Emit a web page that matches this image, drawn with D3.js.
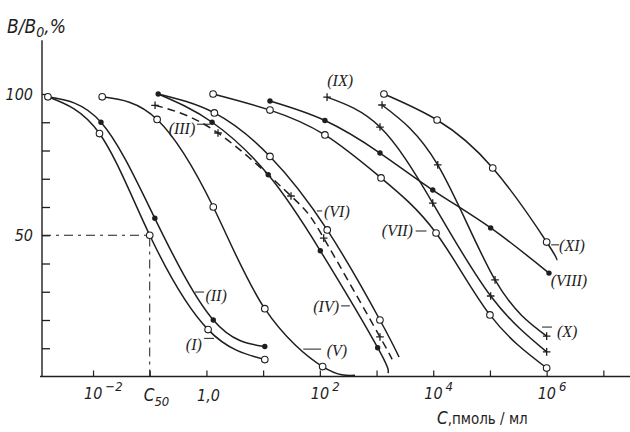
<!DOCTYPE html>
<html>
<head>
<meta charset="utf-8">
<script src="https://cdn.jsdelivr.net/npm/d3@7/dist/d3.min.js"></script>
<style>
  body { margin: 0; background: #fff; }
  svg text { fill: #1e1e1e; }
</style>
</head>
<body>
<svg id="chart" width="630" height="432"></svg>
<script>
// x axis decades (C, pmol/ml) and y axis ticks (B/B0, %)
const xTicks = [1e-2, 1e-1, 1, 1e1, 1e2, 1e3, 1e4, 1e5, 1e6, 1e7];
const xPowLabels = [[1e-2, "−2"], [1e2, "2"], [1e4, "4"], [1e6, "6"]];
const yTicks = [10, 20, 30, 40, 50, 60, 70, 80, 90, 100];
const yTickLabels = [100, 50];
const c50 = 0.1;

// curves: [C, B/B0 %, marker drawn?]
const curveI    = [[0.0016, 99, 1], [0.013, 86, 1], [0.1, 50, 1], [1.07, 16.6, 1], [10.7, 6, 1]];
const curveII   = [[0.0016, 99, 0], [0.0138, 90, 1], [0.123, 56, 1], [1.32, 20, 1], [10.7, 10.6, 1]];
const curveIII  = [[0.124, 96, 1], [1.6, 86.2, 1], [31, 63.9, 1], [117, 49, 1], [1150, 14, 1], [1820, 6.5, 0]];
const curveIV   = [[0.141, 100, 1], [1.26, 90, 1], [12.3, 71.4, 1], [102, 44.5, 1], [1047, 10.2, 1], [1585, 1.2, 0]];
const curveV    = [[0.0145, 99, 1], [0.135, 91, 1], [1.32, 60, 1], [10.7, 24, 1], [112, 3.5, 1], [417, 0.4, 0]];
const curveVI   = [[0.141, 100, 0], [1.38, 93.3, 1], [13.2, 77.9, 1], [135, 51.9, 1], [1148, 20, 1], [2495, 6.9, 0]];
const curveVII  = [[1.31, 100, 1], [13.2, 94.3, 1], [123, 85.5, 1], [1200, 70.3, 1], [11200, 50.8, 1], [1e5, 21.8, 1], [1e6, 3, 1]];
const curveVIII = [[13.2, 97.5, 1], [123, 90.6, 1], [1150, 79.1, 1], [9800, 66, 1], [1.03e5, 52.6, 1], [1.1e6, 36.6, 1]];
const curveIX   = [[134, 98.9, 1], [1150, 88.3, 1], [9800, 61.4, 1], [1.03e5, 28.5, 1], [1e6, 8.7, 1]];
const curveX    = [[1250, 96.1, 1], [12000, 74.9, 1], [1.23e5, 34.2, 1], [1e6, 14.3, 1]];
const curveXI   = [[1350, 100, 1], [11700, 90.8, 1], [1.12e5, 73.8, 1], [1e6, 47.6, 1], [1.5e6, 41.2, 0]];

// curve labels: text, text anchor point [C, B], leader [C1, C2, B] (or null)
const curveLabels = [
  ["(I)",    [0.60, 10.8],   [0.91, 1.36, 13.5]],
  ["(II)",   [1.48, 28.1],   [0.63, 0.91, 29.9]],
  ["(III)",  [0.37, 87.3],   [0.68, 1.16, 89.3]],
  ["(IV)",   [129, 24.2],    [237, 339, 25]],
  ["(V)",    [200, 8.7],     [51, 105, 9.7]],
  ["(VI)",   [200, 57.9],    [89, 110, 58.6]],
  ["(VII)",  [2330, 51.2],   [4900, 7600, 51.5]],
  ["(VIII)", [2.47e6, 33.5], null],
  ["(IX)",   [228, 104.2],   null],
  ["(X)",    [2.3e6, 15.4],  [8.3e5, 1.24e6, 17.5]],
  ["(XI)",   [2.8e6, 45.8],  [1.2e6, 1.66e6, 46.6]]
];

const series = [
  { pts: curveI,    marker: "open" },
  { pts: curveII,   marker: "filled" },
  { pts: curveIII,  marker: "plus", dashed: true },
  { pts: curveIV,   marker: "filled" },
  { pts: curveV,    marker: "open" },
  { pts: curveVI,   marker: "open" },
  { pts: curveVII,  marker: "open" },
  { pts: curveVIII, marker: "filled" },
  { pts: curveIX,   marker: "plus" },
  { pts: curveX,    marker: "plus" },
  { pts: curveXI,   marker: "open" }
];

const ink = "#1e1e1e";
const tickFont = "'DejaVu Sans Condensed', 'Liberation Sans Narrow', 'Liberation Sans', sans-serif";
const labelFont = "'Liberation Serif', 'DejaVu Serif', serif";

const svg = d3.select("#chart");

const x = d3.scaleLog().domain([Math.pow(10, -2.9), Math.pow(10, 7.47)]).range([42, 630]);
const y = d3.scaleLinear().domain([0, 100]).range([376.5, 94]);

// axis lines
svg.append("line")
  .attr("x1", 42).attr("x2", 42)
  .attr("y1", y(0)).attr("y2", y(119))
  .attr("stroke", ink).attr("stroke-width", 1.4);
svg.append("line")
  .attr("x1", 40).attr("x2", 630)
  .attr("y1", y(0)).attr("y2", y(0))
  .attr("stroke", ink).attr("stroke-width", 1.4);

// y ticks point inward
const yAxis = d3.axisLeft(y)
  .tickValues(yTicks)
  .tickSize(-8)
  .tickPadding(9)
  .tickFormat(d => yTickLabels.includes(d) ? d : "");

svg.append("g")
  .attr("transform", "translate(42,0)")
  .call(yAxis)
  .call(g => g.select(".domain").remove())
  .call(g => g.selectAll(".tick line").attr("stroke", ink).attr("stroke-width", 1.3))
  .call(g => g.selectAll(".tick text")
    .attr("fill", ink)
    .style("font-family", tickFont)
    .style("font-style", "italic")
    .style("font-size", "16px"));

// x ticks point up
const xAxis = d3.axisBottom(x)
  .tickValues(xTicks)
  .tickSize(-6)
  .tickFormat("");

svg.append("g")
  .attr("transform", `translate(0,${y(0)})`)
  .call(xAxis)
  .call(g => g.select(".domain").remove())
  .call(g => g.selectAll(".tick line").attr("stroke", ink).attr("stroke-width", 1.2));

// x tick labels: powers of ten with superscripts
const powLab = svg.append("g")
  .style("font-family", tickFont)
  .style("font-style", "italic");

xPowLabels.forEach(([v, p]) => {
  const t = powLab.append("text")
    .attr("x", x(v) - 9)
    .attr("y", 399)
    .style("font-size", "16px");
  t.append("tspan").text("10");
  t.append("tspan")
    .attr("dx", 3)
    .attr("dy", -8)
    .style("font-size", "13px")
    .text(p);
});

// C50 and 1,0 labels
const c50Lab = powLab.append("text")
  .attr("x", x(c50) - 6)
  .attr("y", 401)
  .style("font-size", "17px");
c50Lab.append("tspan").text("C");
c50Lab.append("tspan").attr("dy", 5).style("font-size", "13px").text("50");

powLab.append("text")
  .attr("x", x(1) + 2)
  .attr("y", 401)
  .attr("text-anchor", "middle")
  .style("font-size", "16px")
  .text("1,0");

// C50 guide lines
svg.append("path")
  .attr("d", `M${x.range()[0]},${y(50)}H${x(c50)}V${y(0)}`)
  .attr("fill", "none")
  .attr("stroke", ink)
  .attr("stroke-width", 1)
  .attr("stroke-dasharray", "9,5,3,5");

// axis titles
const yTitle = svg.append("text")
  .attr("x", 7)
  .attr("y", 33)
  .style("font-family", tickFont)
  .style("font-style", "italic")
  .style("font-size", "19px");
yTitle.append("tspan").text("B/B");
yTitle.append("tspan").attr("dy", 4).style("font-size", "14px").text("0");
yTitle.append("tspan").attr("dy", -4).text(",%");

const xTitle = svg.append("text")
  .attr("x", 437)
  .attr("y", 424)
  .style("font-family", tickFont)
  .style("font-size", "15px");
xTitle.append("tspan").style("font-style", "italic").style("font-size", "17px").text("C");
xTitle.append("tspan").text(",пмоль / мл");

// curves
const line = d3.line()
  .x(d => x(d[0]))
  .y(d => y(d[1]))
  .curve(d3.curveNatural);

series.forEach(s => {
  svg.append("path")
    .datum(s.pts)
    .attr("d", line)
    .attr("fill", "none")
    .attr("stroke", ink)
    .attr("stroke-width", 1.5)
    .attr("stroke-dasharray", s.dashed ? "8,5" : null);
});

// markers
series.forEach(s => {
  const pts = s.pts.filter(d => d[2]);
  const g = svg.append("g");
  if (s.marker === "open") {
    g.selectAll("circle").data(pts).join("circle")
      .attr("cx", d => x(d[0])).attr("cy", d => y(d[1]))
      .attr("r", 3.3)
      .attr("fill", "#fff").attr("stroke", ink).attr("stroke-width", 1.1);
  } else if (s.marker === "filled") {
    g.selectAll("circle").data(pts).join("circle")
      .attr("cx", d => x(d[0])).attr("cy", d => y(d[1]))
      .attr("r", 2.7)
      .attr("fill", ink);
  } else {
    g.selectAll("path").data(pts).join("path")
      .attr("d", d => {
        const cx = x(d[0]), cy = y(d[1]);
        return `M${cx - 3.8},${cy}H${cx + 3.8}M${cx},${cy - 3.8}V${cy + 3.8}`;
      })
      .attr("stroke", ink).attr("stroke-width", 1.3)
      .attr("fill", "#fff");
  }
});

// curve labels with short leaders
const lab = svg.append("g")
  .style("font-family", labelFont)
  .style("font-style", "italic")
  .style("font-size", "16px");

curveLabels.forEach(([t, at, lead]) => {
  lab.append("text")
    .attr("x", x(at[0]))
    .attr("y", y(at[1]))
    .attr("text-anchor", "middle")
    .attr("dominant-baseline", "middle")
    .text(t);
  if (lead) {
    svg.append("line")
      .attr("x1", x(lead[0])).attr("x2", x(lead[1]))
      .attr("y1", y(lead[2])).attr("y2", y(lead[2]))
      .attr("stroke", ink).attr("stroke-width", 1);
  }
});
</script>
</body>
</html>
